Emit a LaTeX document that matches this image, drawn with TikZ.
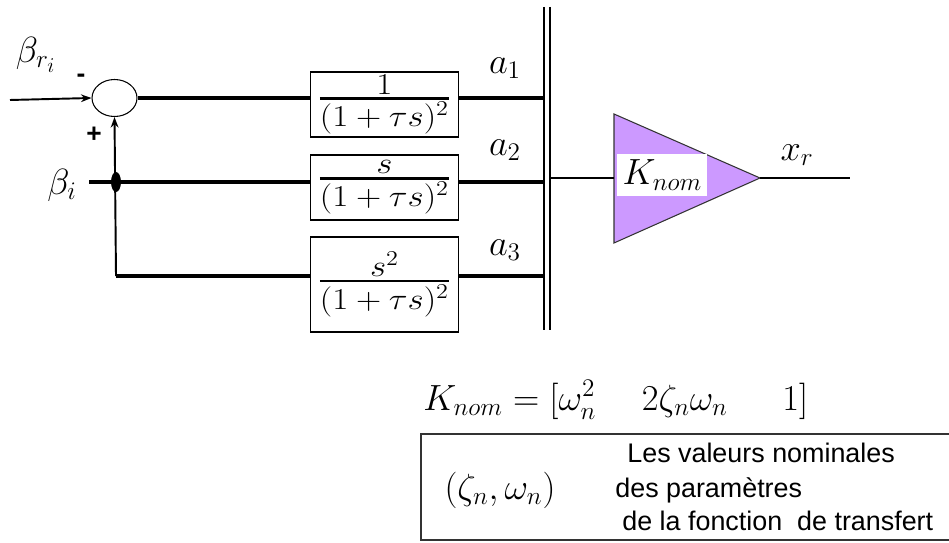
\documentclass[tikz,border=0pt]{standalone}
\usepackage{amsmath}
\usepackage{graphicx}
\usepackage{fontspec}
\usetikzlibrary{arrows.meta,shapes.geometric}
\newfontfamily\arialfont{Liberation Sans}
\definecolor{gainlilac}{RGB}{204,153,255}
\newcommand{\tfsize}{\fontsize{17}{20}\selectfont}
\newcommand{\filt}[2]{\scalebox{1.15}[1]{$\genfrac{}{}{1.4pt}{}{\textstyle #1}{\textstyle #2}$}}

\begin{document}
\begin{tikzpicture}[x=0.02cm,y=-0.02cm,font=\huge,line cap=butt,line join=miter,
  sig/.style={line width=2pt},
  feed/.style={line width=1.1pt},
  busline/.style={line width=0.7pt},
  tfbox/.style={draw,line width=0.6pt,minimum width=2.96cm,minimum height=1.3cm,inner sep=0pt,font=\tfsize},
  sign/.style={font=\arialfont\bfseries\fontsize{15}{18}\selectfont,inner sep=0pt},
  lbl/.style={inner sep=0pt},
  tip/.style={-{Stealth[length=6pt,width=4.4pt]}}]
\useasboundingbox (0,0) rectangle (949,543);
% summing junction and branch point
\node[ellipse,draw,line width=0.6pt,minimum width=0.9cm,minimum height=0.74cm,inner sep=0pt] (sum) at (114.5,98) {};
\node[ellipse,fill=black,minimum width=0.2cm,minimum height=0.4cm,inner sep=0pt] (jct) at (116,182) {};
\coordinate (in) at (10,100);
\coordinate (bistart) at (89,182);
\coordinate (corner) at (116,276);
\node[lbl] (brilabel) at (36,55) {$\beta_{r_i}$};
\node[lbl] (bilabel) at (62,185) {$\beta_i$};
\node[sign] (minus) at (81,78) {-};
\node[sign] (plus) at (94,135) {+};
% filters
\node[tfbox] (f1) at (384.5,104.5) {\filt{1}{(1+\tau s)^2}};
\node[tfbox] (f2) at (384.5,187.5) {\filt{s}{(1+\tau s)^2}};
\node[tfbox,minimum height=1.9cm] (f3) at (384.5,284.5) {\filt{s^2}{(1+\tau s)^2}};
\node[lbl] (a1) at (505,68) {$a_1$};
\node[lbl] (a2) at (505,150) {$a_2$};
\node[lbl] (a3) at (505,250) {$a_3$};
% bus
\coordinate (busL) at (544,7);
\coordinate (busR) at (550,7);
\draw[busline] (busL) -- ++(0,323);
\draw[busline] (busR) -- ++(0,323);
% gain
\coordinate (gtop) at (614,114);
\coordinate (gbot) at (614,243);
\coordinate (gout) at (760,178);
\coordinate (gin) at (614,178);
\filldraw[fill=gainlilac,draw=black!80,line width=0.6pt] (gtop) -- (gout) -- (gbot) -- cycle;
\node[fill=white,anchor=west,inner sep=1pt,minimum width=1.8cm,minimum height=0.84cm,align=left] (knom) at (617,175) {$K_{nom}$\hfill};
\coordinate (xend) at (850,178);
\node[lbl] (xr) at (797,155) {$x_r$};
% connections
\draw[feed,tip] (in) -- (sum.west);
\draw[sig] (sum.east) -- (sum.east -| f1.west);
\draw[sig] (bistart) -- (bistart -| f2.west);
\draw[feed,tip] (corner) -- (sum.south);
\draw[sig] (corner) -- (corner -| f3.west);
\draw[sig] (f1.east |- sum) -- (busL |- sum);
\draw[sig] (f2.east |- jct) -- (busL |- jct);
\draw[sig] (f3.east |- corner) -- (busL |- corner);
\draw[busline] (busR |- gin) -- (gin);
\draw[busline] (gout) -- (xend);
% nominal values
\node[lbl,anchor=base west] (keq) at (423,410) {$K_{nom} = [\omega_n^2 \hspace{1.25em} 2\zeta_n\omega_n \hspace{1.5em} 1]$};
\draw[line width=0.8pt,draw=black!80] (421,434) rectangle (955,540);
\node[lbl] (zw) at (500,490) {$(\zeta_n,\omega_n)$};
\node[lbl,anchor=base west,font=\arialfont\fontsize{15.3}{18}\selectfont] (txta) at (627,462) {Les valeurs nominales};
\node[lbl,anchor=base west,font=\arialfont\fontsize{15.3}{18}\selectfont] (txtb) at (615,497) {des paramètres};
\node[lbl,anchor=base west,font=\arialfont\fontsize{15.3}{18}\selectfont] (txtc) at (622,530) {de la fonction\ \ de transfert};
\end{tikzpicture}
\end{document}
